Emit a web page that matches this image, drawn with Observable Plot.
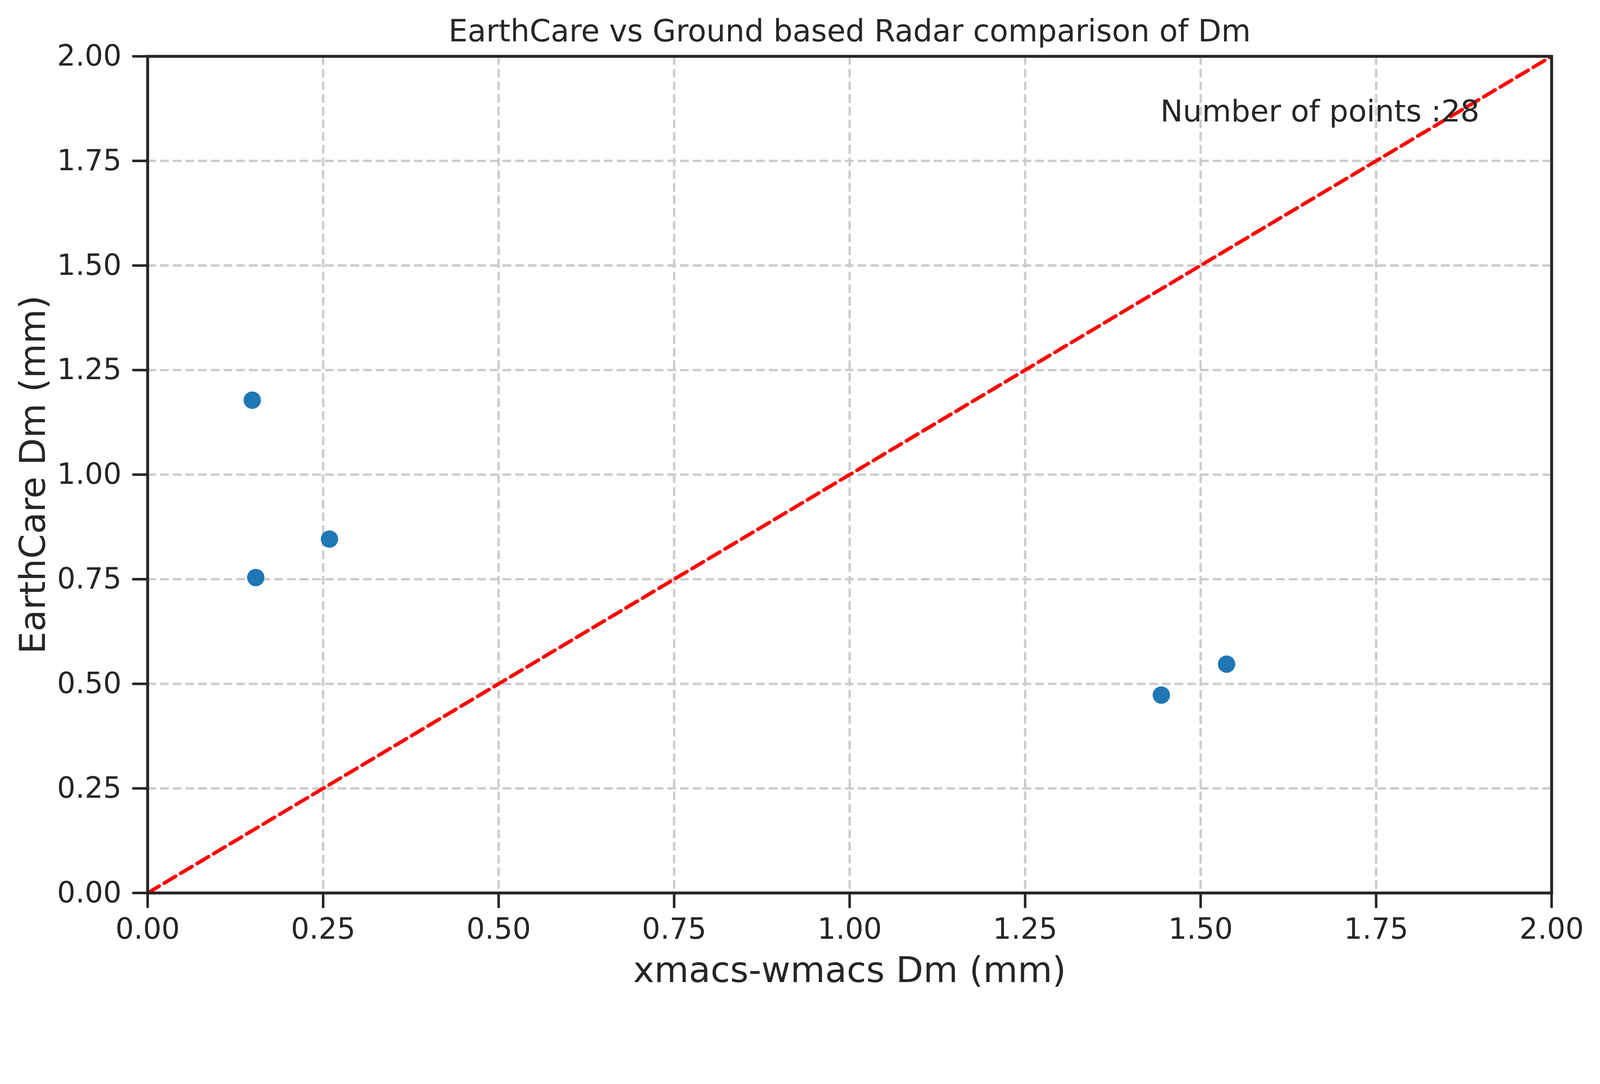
<!DOCTYPE html>
<html>
<head>
<meta charset="utf-8">
<script src="https://cdn.jsdelivr.net/npm/d3@7"></script>
<script src="https://cdn.jsdelivr.net/npm/@observablehq/plot@0.6"></script>
<style>
  html, body { margin: 0; padding: 0; background: #ffffff; }
  svg { display: block; }
</style>
</head>
<body>
<div id="chart"></div>
<script>
// Data
const xmacsDm = [0.149, 0.154, 0.259, 1.444, 1.537];
const earthcareDm = [1.178, 0.754, 0.846, 0.473, 0.547];
const numPoints = 28;
const oneToOneX = [0, 2];
const oneToOneY = [0, 2];
const tickValues = [0, 0.25, 0.5, 0.75, 1.0, 1.25, 1.5, 1.75, 2.0];

const titleText = "EarthCare vs Ground based Radar comparison of Dm";
const xLabelText = "xmacs-wmacs Dm (mm)";
const yLabelText = "EarthCare Dm (mm)";
const annotationText = "Number of points :" + numPoints;

const points = xmacsDm.map((x, i) => ({x, y: earthcareDm[i]}));
const diag = oneToOneX.map((x, i) => ({x, y: oneToOneY[i]}));

const ink = "#262626";
const gridStyle = {stroke: "#cccccc", strokeOpacity: 1, strokeWidth: 6.5, strokeDasharray: "24,11"};

const chart = Plot.plot({
  width: 4416,
  height: 2776,
  marginLeft: 407,
  marginRight: 134,
  marginTop: 155,
  marginBottom: 311,
  style: {fontFamily: "DejaVu Sans", fontSize: "80px", color: ink, background: "#ffffff"},
  x: {domain: [0, 2], label: null},
  y: {domain: [0, 2], label: null},
  marks: [
    Plot.gridX(tickValues, gridStyle),
    Plot.gridY(tickValues, gridStyle),
    Plot.line(diag, {x: "x", y: "y", stroke: "red", strokeWidth: 10, strokeDasharray: "37,16", clip: true}),
    Plot.dot(points, {x: "x", y: "y", r: 24, fill: "#1f77b4", stroke: "none"}),
    Plot.frame({stroke: ink, strokeWidth: 8}),
    Plot.axisX(tickValues, {
      tickFormat: d3.format(".2f"), tickSize: 42, tickPadding: 28,
      fontSize: 80, stroke: ink, fill: ink, strokeWidth: 7, label: null
    }),
    Plot.axisY(tickValues, {
      tickFormat: d3.format(".2f"), tickSize: 42, tickPadding: 30,
      fontSize: 80, stroke: ink, fill: ink, strokeWidth: 7, label: null
    }),
    Plot.text([titleText], {
      text: d => d, frameAnchor: "top", textAnchor: "middle", lineAnchor: "bottom", dy: -41,
      fontSize: 83.5, fill: ink
    }),
    Plot.text([annotationText], {
      text: d => d, frameAnchor: "top-right", textAnchor: "end", lineAnchor: "bottom",
      dx: -199, dy: 180, fontSize: 83, fill: ink
    }),
    Plot.text([xLabelText], {
      text: d => d, frameAnchor: "bottom", textAnchor: "middle", lineAnchor: "bottom", dy: 246,
      fontSize: 98, fill: ink
    }),
    Plot.text([yLabelText], {
      text: d => d, frameAnchor: "left", textAnchor: "middle", rotate: -90, lineAnchor: "bottom", dx: -284,
      fontSize: 98, fill: ink
    })
  ]
});

document.getElementById("chart").appendChild(chart);
</script>
</body>
</html>
